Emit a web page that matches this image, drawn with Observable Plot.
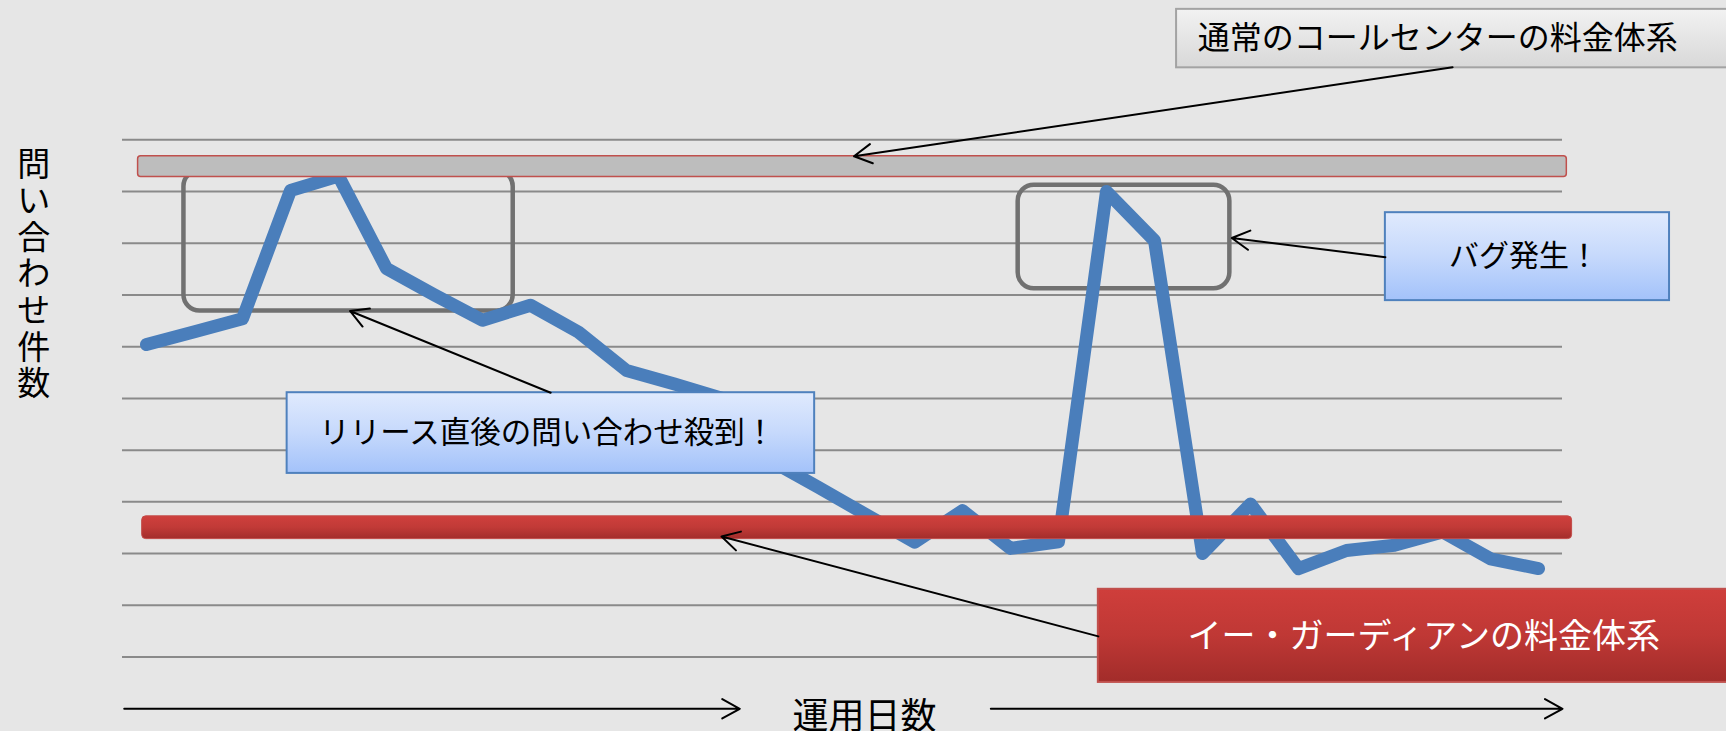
<!DOCTYPE html>
<html>
<head>
<meta charset="utf-8">
<script src="https://cdn.jsdelivr.net/npm/d3@7"></script>
<script src="https://cdn.jsdelivr.net/npm/@observablehq/plot@0.6"></script>
<style>
  html, body { margin: 0; padding: 0; background: #e6e6e6; overflow: hidden; }
  #chart svg { display: block; overflow: hidden; }
</style>
</head>
<body>
<div id="chart"></div>
<script>
// ---- data ----
const days = [1,2,3,4,5,6,7,8,9,10,11,12,13,14,15,16,17,18,19,20,21,22,23,24,25,26,27,28,29,30];
const inquiries = [7.04,7.29,7.54,10.02,10.3,8.51,8.0,7.51,7.8,7.28,6.54,6.28,6.0,4.8,4.28,3.75,3.22,3.83,3.1,3.23,10.0,9.05,3.0,3.96,2.71,3.06,3.16,3.42,2.9,2.71];
const gridValues = [1,2,3,4,5,6,7,8,9,10,11];
const normalCenterLevel = [10.28, 10.68];   // 通常のコールセンターの料金体系
const eGuardianLevel = [3.28, 3.72];        // イー・ガーディアンの料金体系
const yLabel = "問い合わせ件数";
const xLabel = "運用日数";
const normalLabel = "通常のコールセンターの料金体系";
const eGuardianLabel = "イー・ガーディアンの料金体系";
const releaseLabel = "リリース直後の問い合わせ殺到！";
const bugLabel = "バグ発生！";

// ---- annotation layout (in data units) ----
const levelBars = [
  {x1: 0.825, x2: 30.59, y1: normalCenterLevel[0], y2: normalCenterLevel[1]}
];
const redBars = [
  {x1: 0.91, x2: 30.70, y1: eGuardianLevel[0], y2: eGuardianLevel[1]}
];
const highlightBoxes = [
  {x1: 1.78, x2: 8.64, y1: 7.69, y2: 10.4},
  {x1: 19.16, x2: 23.57, y1: 8.12, y2: 10.12}
];
const topBox = [{x1: 22.46, x2: 34.2, y1: 12.39, y2: 13.52}];
const blueBoxes = [
  {x1: 3.93, x2: 14.92, y1: 4.55, y2: 6.11},
  {x1: 26.81, x2: 32.73, y1: 7.89, y2: 9.59}
];
const redBox = [{x1: 20.83, x2: 34.2, y1: 0.51, y2: 2.31}];
const arrows = [
  {x1: 28.21, y1: 12.40, x2: 15.74, y2: 10.68},
  {x1: 9.42, y1: 6.11, x2: 5.24, y2: 7.69},
  {x1: 26.81, y1: 8.73, x2: 23.61, y2: 9.10},
  {x1: 20.83, y1: 1.40, x2: 12.98, y2: 3.33},
  {x1: 0.536, y1: 0, x2: 13.36, y2: 0},
  {x1: 18.59, y1: 0, x2: 30.50, y2: 0}
];
const font = "'Noto Sans CJK JP', 'Noto Sans', sans-serif";

const svg = Plot.plot({
  width: 1726,
  height: 731,
  marginLeft: 122,
  marginRight: 164,
  marginTop: 87.5,
  marginBottom: 22.7,
  style: {background: "#e6e6e6", fontFamily: font, overflow: "hidden"},
  x: {domain: [0.5, 30.5], axis: null},
  y: {domain: [0, 12], axis: null},
  marks: [
    Plot.ruleY(gridValues, {stroke: "#8a8a8a", strokeWidth: 2}),
    Plot.rect(highlightBoxes, {x1: "x1", x2: "x2", y1: "y1", y2: "y2", fill: "none", stroke: "#717171", strokeWidth: 4.5, rx: 16}),
    Plot.lineY(inquiries, {x: days, stroke: "#4a7ebb", strokeWidth: 13, strokeLinecap: "round", strokeLinejoin: "round"}),
    Plot.rect(levelBars, {x1: "x1", x2: "x2", y1: "y1", y2: "y2", fill: "#bdbdbd", stroke: "#c0504d", strokeWidth: 1.5, rx: 3}),
    Plot.rect(redBars, {x1: "x1", x2: "x2", y1: "y1", y2: "y2", fill: "url(#redGrad)", stroke: "#c24a47", strokeWidth: 1, rx: 4}),
    Plot.rect(topBox, {x1: "x1", x2: "x2", y1: "y1", y2: "y2", fill: "url(#grayGrad)", stroke: "#a3a3a3", strokeWidth: 2}),
    Plot.rect(blueBoxes, {x1: "x1", x2: "x2", y1: "y1", y2: "y2", fill: "url(#blueGrad)", stroke: "#4f81bd", strokeWidth: 2}),
    Plot.rect(redBox, {x1: "x1", x2: "x2", y1: "y1", y2: "y2", fill: "url(#redGrad2)", stroke: "#c0504d", strokeWidth: 2}),
    Plot.arrow(arrows, {x1: "x1", y1: "y1", x2: "x2", y2: "y2", stroke: "black", strokeWidth: 2, headLength: 15, headAngle: 58, bend: 0}),
    Plot.text([normalLabel], {x: 22.9, y: 12.96, text: d => d, textAnchor: "start", lineAnchor: "middle", fontSize: 32, fill: "black", fontFamily: font}),
    Plot.text([releaseLabel], {x: 9.35, y: 5.32, text: d => d, textAnchor: "middle", lineAnchor: "middle", fontSize: 30.5, fill: "black", fontFamily: font}),
    Plot.text([bugLabel], {x: 29.7, y: 8.74, text: d => d, textAnchor: "middle", lineAnchor: "middle", fontSize: 30, fill: "black", fontFamily: font}),
    Plot.text([eGuardianLabel], {x: 22.69, y: 1.38, text: d => d, textAnchor: "start", lineAnchor: "middle", fontSize: 34, fill: "white", fontFamily: font}),
    Plot.text([xLabel], {x: 15.96, y: -0.17, text: d => d, textAnchor: "middle", lineAnchor: "middle", fontSize: 36, fill: "black", fontFamily: font}),
    Plot.text([yLabel.split("").join("\n")], {x: -1.35, y: 8.41, text: d => d, textAnchor: "middle", lineAnchor: "middle", fontSize: 33, lineHeight: 1.11, fill: "black", fontFamily: font})
  ]
});

const defs = d3.select(svg).insert("defs", ":first-child");
function grad(id, stops) {
  const g = defs.append("linearGradient").attr("id", id).attr("x1", 0).attr("y1", 0).attr("x2", 0).attr("y2", 1);
  stops.forEach(([o, c]) => g.append("stop").attr("offset", o).attr("stop-color", c));
}
grad("redGrad", [[0, "#cf403d"], [0.5, "#c13a37"], [1, "#a32d2b"]]);
grad("redGrad2", [[0, "#cf3e3b"], [0.5, "#bf3835"], [1, "#a22c2a"]]);
grad("grayGrad", [[0, "#f2f2f2"], [1, "#d8d8d8"]]);
grad("blueGrad", [[0, "#e0eafd"], [0.5, "#c6d9fc"], [1, "#a3c2fa"]]);

document.getElementById("chart").appendChild(svg);
</script>
</body>
</html>
